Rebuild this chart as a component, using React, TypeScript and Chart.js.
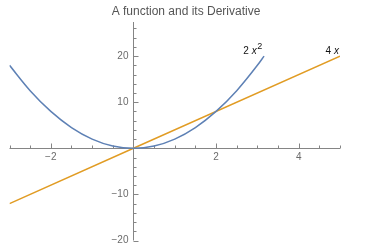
import React, { useEffect, useRef } from "react";
import { Chart, registerables } from "chart.js";

Chart.register(...registerables);

// f(x) = 2x^2 sampled over the plotted domain
const parabolaX = [-3, -2.5, -2, -1.5, -1, -0.5, 0, 0.5, 1, 1.5, 2, 2.5, 3, 3.162];
const parabolaY = [18, 12.5, 8, 4.5, 2, 0.5, 0, 0.5, 2, 4.5, 8, 12.5, 18, 20];

// f'(x) = 4x, a straight line
const derivX = [-3, 0, 5];
const derivY = [-12, 0, 20];

const xMajorTicks = [-2, 2, 4];
const yMajorTicks = [-20, -10, 10, 20];

const X_MIN = -3;
const X_MAX = 5;
const Y_MIN = -20;
const Y_MAX = 27.4;

const TITLE = "A function and its Derivative";
const BLUE = "#5E81B5";
const ORANGE = "#E19C24";
const AXIS = "#858585";
const LABEL = "#6b6b6b";
const FONT = "'Liberation Sans', Arial, sans-serif";

const crossAxes = {
  id: "crossAxes",
  beforeDatasetsDraw(chart: any) {
    const { ctx, scales } = chart;
    const xs = scales.x;
    const ys = scales.y;
    const x0 = xs.getPixelForValue(0);
    const y0 = ys.getPixelForValue(0);
    ctx.save();
    ctx.strokeStyle = AXIS;
    ctx.lineWidth = 1;
    // axis lines
    ctx.beginPath();
    ctx.moveTo(xs.getPixelForValue(X_MIN), Math.round(y0) + 0.5);
    ctx.lineTo(xs.getPixelForValue(X_MAX), Math.round(y0) + 0.5);
    ctx.moveTo(Math.round(x0) + 0.5, ys.getPixelForValue(Y_MAX));
    ctx.lineTo(Math.round(x0) + 0.5, ys.getPixelForValue(Y_MIN));
    ctx.stroke();
    // x ticks every 0.5, longer at multiples of 2
    ctx.beginPath();
    for (let i = X_MIN * 2; i <= X_MAX * 2; i++) {
      const v = i / 2;
      if (v === 0) continue;
      const px = Math.round(xs.getPixelForValue(v)) + 0.5;
      const len = v % 2 === 0 ? 5 : 3;
      ctx.moveTo(px, Math.round(y0) + 0.5);
      ctx.lineTo(px, Math.round(y0) + 0.5 - len);
    }
    // y ticks every 2, longer at multiples of 10
    for (let v = Y_MIN; v <= Y_MAX; v += 2) {
      if (v === 0) continue;
      const py = Math.round(ys.getPixelForValue(v)) + 0.5;
      const len = v % 10 === 0 ? 5 : 3;
      ctx.moveTo(Math.round(x0) + 0.5, py);
      ctx.lineTo(Math.round(x0) + 0.5 + len, py);
    }
    ctx.stroke();
    // tick labels
    ctx.fillStyle = LABEL;
    ctx.font = `10px ${FONT}`;
    ctx.textAlign = "center";
    ctx.textBaseline = "top";
    for (const v of xMajorTicks) {
      ctx.fillText(v < 0 ? `\u2212${-v}` : String(v), xs.getPixelForValue(v), y0 + 4);
    }
    ctx.textAlign = "right";
    ctx.textBaseline = "middle";
    for (const v of yMajorTicks) {
      ctx.fillText(v < 0 ? `\u2212${-v}` : String(v), x0 - 5, ys.getPixelForValue(v));
    }
    // title
    ctx.fillStyle = "#555";
    ctx.font = `12px ${FONT}`;
    ctx.textAlign = "center";
    ctx.textBaseline = "middle";
    ctx.fillText(TITLE, 186, 12);
    ctx.restore();
  },
  afterDatasetsDraw(chart: any) {
    const { ctx, scales } = chart;
    const xs = scales.x;
    const ys = scales.y;
    ctx.save();
    ctx.fillStyle = "#111";
    ctx.textBaseline = "alphabetic";
    ctx.textAlign = "left";
    // "2 x²" next to the end of the parabola
    let px = xs.getPixelForValue(2.66);
    const py = ys.getPixelForValue(20.5);
    ctx.font = `10px ${FONT}`;
    ctx.fillText("2 ", px, py);
    px += ctx.measureText("2 ").width;
    ctx.font = `italic 10px ${FONT}`;
    ctx.fillText("x", px, py);
    px += ctx.measureText("x").width + 0.5;
    ctx.font = `9px ${FONT}`;
    ctx.fillText("2", px, py - 5);
    // "4 x" next to the end of the line
    let qx = xs.getPixelForValue(4.65);
    ctx.font = `10px ${FONT}`;
    ctx.fillText("4 ", qx, py);
    qx += ctx.measureText("4 ").width;
    ctx.font = `italic 10px ${FONT}`;
    ctx.fillText("x", qx, py);
    ctx.restore();
  },
};

export default function App() {
  const ref = useRef<HTMLCanvasElement>(null);
  useEffect(() => {
    if (!ref.current) return;
    const chart = new Chart(ref.current, {
      type: "line",
      data: {
        datasets: [
          {
            label: "2x^2",
            data: parabolaX.map((x, i) => ({ x, y: parabolaY[i] })),
            borderColor: BLUE,
            borderWidth: 1.5,
            pointRadius: 0,
            cubicInterpolationMode: "monotone",
            fill: false,
          },
          {
            label: "4x",
            data: derivX.map((x, i) => ({ x, y: derivY[i] })),
            borderColor: ORANGE,
            borderWidth: 1.5,
            pointRadius: 0,
            fill: false,
          },
        ],
      },
      options: {
        animation: false,
        responsive: false,
        events: [],
        layout: { padding: { left: 9.5, right: 28, top: 22, bottom: 6.5 } },
        plugins: { legend: { display: false }, tooltip: { enabled: false }, title: { display: false } },
        scales: {
          x: { type: "linear", min: X_MIN, max: X_MAX, display: false },
          y: { type: "linear", min: Y_MIN, max: Y_MAX, display: false },
        },
      },
      plugins: [crossAxes],
    } as any);
    return () => chart.destroy();
  }, []);
  return (
    <div style={{ position: "fixed", left: 0, top: 0, width: 368, height: 247, background: "#fff" }}>
      <canvas ref={ref} width={368} height={247} style={{ display: "block" }} />
    </div>
  );
}
